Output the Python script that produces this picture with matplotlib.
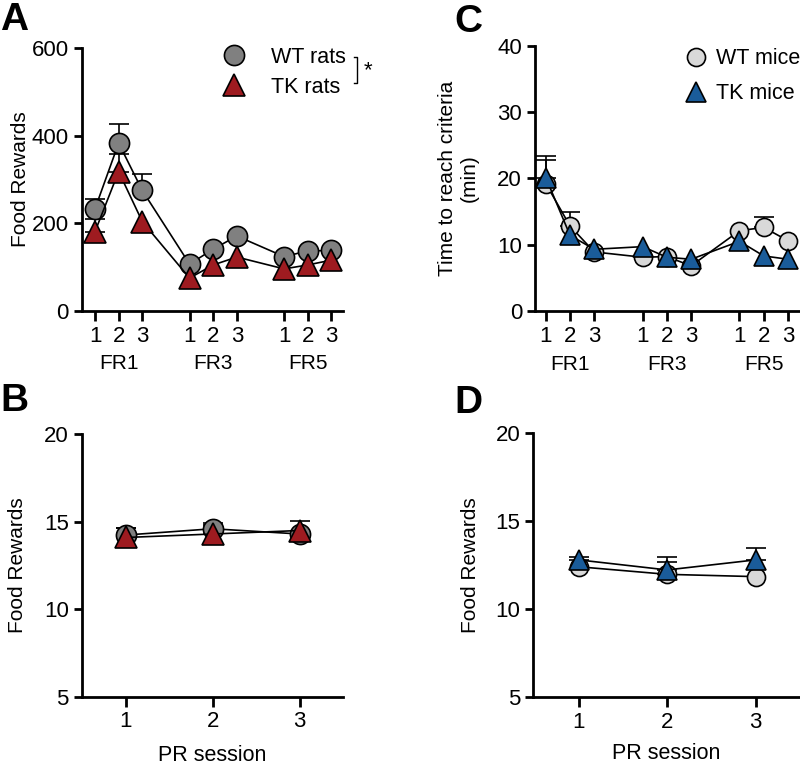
import matplotlib
matplotlib.use('Agg')
import matplotlib.pyplot as plt
from matplotlib.lines import Line2D
import numpy as np

plt.rcParams['font.family'] = ['Liberation Sans', 'DejaVu Sans']
plt.rcParams['axes.linewidth'] = 2.0
plt.rcParams['xtick.major.width'] = 2.0
plt.rcParams['ytick.major.width'] = 2.0

# 数据: FR训练 (三个阶段，每个阶段3次)
fr_pos = [1, 2, 3, 5, 6, 7, 9, 10, 11]
fr_ticklabels = ['1', '2', '3'] * 3
fr_groups = ['FR1', 'FR3', 'FR5']
fr_group_pos = [2, 6, 10]

# SEM为0表示误差线被标记遮住
wt_rats_fr = [233, 383, 275, 107, 141, 171, 124, 137, 138]
wt_rats_fr_sem = [22, 43, 37, 0, 0, 0, 0, 0, 0]
tk_rats_fr = [181, 318, 204, 75, 105, 123, 96, 105, 116]
tk_rats_fr_sem = [28, 40, 0, 0, 0, 0, 0, 0, 0]

wt_mice_fr = [19.2, 12.8, 8.9, 8.1, 8.2, 6.8, 12.1, 12.6, 10.6]
wt_mice_fr_sem = [3.6, 2.1, 0, 0, 0, 0, 0, 1.6, 0]
tk_mice_fr = [20.1, 11.4, 9.3, 9.7, 8.1, 7.8, 10.5, 8.3, 7.8]
tk_mice_fr_sem = [3.2, 0, 0, 0, 0, 0, 0, 0, 0]

# 数据: PR
pr_sessions = [1, 2, 3]
wt_rats_pr = [14.24, 14.6, 14.3]
wt_rats_pr_sem = [0.42, 0.35, 0]
tk_rats_pr = [14.1, 14.3, 14.5]
tk_rats_pr_sem = [0.56, 0.5, 0.56]

wt_mice_pr = [12.4, 11.97, 11.84]
wt_mice_pr_sem = [0, 0.72, 0]
tk_mice_pr = [12.79, 12.22, 12.79]
tk_mice_pr_sem = [0.18, 0.72, 0.65]

WT_RAT = '#808080'
TK_RAT = '#9e1b20'
WT_MOUSE = '#d9d9d9'
TK_MOUSE = '#1a5c9a'


def draw_series(ax, x, y, sem, color, marker, ms, label):
    x = np.asarray(x, dtype=float)
    y = np.asarray(y, dtype=float)
    sem = np.asarray(sem, dtype=float)
    m = sem > 0
    if m.any():
        ax.errorbar(x[m], y[m], yerr=[np.zeros(m.sum()), sem[m]], fmt='none',
                    ecolor='black', elinewidth=1.2, capsize=7, capthick=1.2, zorder=2)
    ax.plot(x, y, color='black', linewidth=1.2, marker=marker, markersize=ms,
            markerfacecolor=color, markeredgecolor='black', markeredgewidth=1.2,
            zorder=3, clip_on=False)
    return Line2D([], [], linestyle='none', marker=marker, markersize=ms,
                  markerfacecolor=color, markeredgecolor='black',
                  markeredgewidth=1.2, label=label)


def style_axes(ax):
    ax.spines['top'].set_visible(False)
    ax.spines['right'].set_visible(False)
    ax.tick_params(axis='both', labelsize=16, length=6, direction='out')
    ax.tick_params(axis='x', length=7)


fig = plt.figure(figsize=(8, 7.65), dpi=100)

# A: 大鼠 FR
axA = fig.add_axes([0.1025, 0.5935, 0.3265, 0.3438])
hA1 = draw_series(axA, fr_pos, wt_rats_fr, wt_rats_fr_sem, WT_RAT, 'o', 14.5, 'WT rats')
hA2 = draw_series(axA, fr_pos, tk_rats_fr, tk_rats_fr_sem, TK_RAT, '^', 16, 'TK rats')
axA.set_xlim(0.45, 11.5)
axA.set_ylim(0, 600)
axA.set_yticks([0, 200, 400, 600])
axA.set_xticks(fr_pos)
axA.set_xticklabels(fr_ticklabels)
axA.set_ylabel('Food Rewards', fontsize=15, labelpad=1)
style_axes(axA)
for p, g in zip(fr_group_pos, fr_groups):
    axA.text(p, -0.20, g, transform=axA.get_xaxis_transform(), ha='center', va='center', fontsize=15)
axA.legend(handles=[hA1, hA2], loc='upper left', bbox_to_anchor=(0.498, 1.045), frameon=False,
           fontsize=15.5, handlelength=1.0, handletextpad=1.25, labelspacing=0.4, borderpad=0)
axA.plot([1.042, 1.054, 1.054, 1.042], [0.966, 0.966, 0.867, 0.867], color='black',
         linewidth=1.0, transform=axA.transAxes, clip_on=False)
axA.text(1.096, 0.912, '*', transform=axA.transAxes, ha='center', va='center', fontsize=16)

# C: 小鼠 FR
axC = fig.add_axes([0.669, 0.5935, 0.331, 0.3468])
hC1 = draw_series(axC, fr_pos, wt_mice_fr, wt_mice_fr_sem, WT_MOUSE, 'o', 13, 'WT mice')
hC2 = draw_series(axC, fr_pos, tk_mice_fr, tk_mice_fr_sem, TK_MOUSE, '^', 15, 'TK mice')
axC.set_xlim(0.56, 11.5)
axC.set_ylim(0, 40)
axC.set_yticks([0, 10, 20, 30, 40])
axC.set_xticks(fr_pos)
axC.set_xticklabels(fr_ticklabels)
axC.set_ylabel('Time to reach criteria\n(min)', fontsize=15, labelpad=13)
style_axes(axC)
for p, g in zip(fr_group_pos, fr_groups):
    axC.text(p, -0.20, g, transform=axC.get_xaxis_transform(), ha='center', va='center', fontsize=15)
axC.legend(handles=[hC1, hC2], loc='upper left', bbox_to_anchor=(0.526, 1.03), frameon=False,
           fontsize=15.5, handlelength=1.0, handletextpad=0.45, labelspacing=0.65, borderpad=0)

# B: 大鼠 PR
axB = fig.add_axes([0.1025, 0.0893, 0.3265, 0.343])
draw_series(axB, pr_sessions, wt_rats_pr, wt_rats_pr_sem, WT_RAT, 'o', 14.5, 'WT rats')
draw_series(axB, pr_sessions, tk_rats_pr, tk_rats_pr_sem, TK_RAT, '^', 16, 'TK rats')
axB.set_xlim(0.5, 3.5)
axB.set_ylim(5, 20)
axB.set_yticks([5, 10, 15, 20])
axB.set_xticks(pr_sessions)
axB.set_ylabel('Food Rewards', fontsize=15, labelpad=12)
axB.set_xlabel('PR session', fontsize=15.5, labelpad=9)
style_axes(axB)

# D: 小鼠 PR
axD = fig.add_axes([0.6667, 0.0885, 0.3333, 0.3459])
draw_series(axD, pr_sessions, wt_mice_pr, wt_mice_pr_sem, WT_MOUSE, 'o', 13, 'WT mice')
draw_series(axD, pr_sessions, tk_mice_pr, tk_mice_pr_sem, TK_MOUSE, '^', 15, 'TK mice')
axD.set_xlim(0.49, 3.5)
axD.set_ylim(5, 20)
axD.set_yticks([5, 10, 15, 20])
axD.set_xticks(pr_sessions)
axD.set_ylabel('Food Rewards', fontsize=15, labelpad=11)
axD.set_xlabel('PR session', fontsize=15.5, labelpad=7)
style_axes(axD)

# 面板标签
for lbl, x, y in [('A', 0.0, 0.997), ('C', 0.568, 0.995), ('B', 0.0, 0.499), ('D', 0.568, 0.497)]:
    fig.text(x, y, lbl, fontsize=28, fontweight='bold', ha='left', va='top')

plt.savefig('out.png', dpi=100)
